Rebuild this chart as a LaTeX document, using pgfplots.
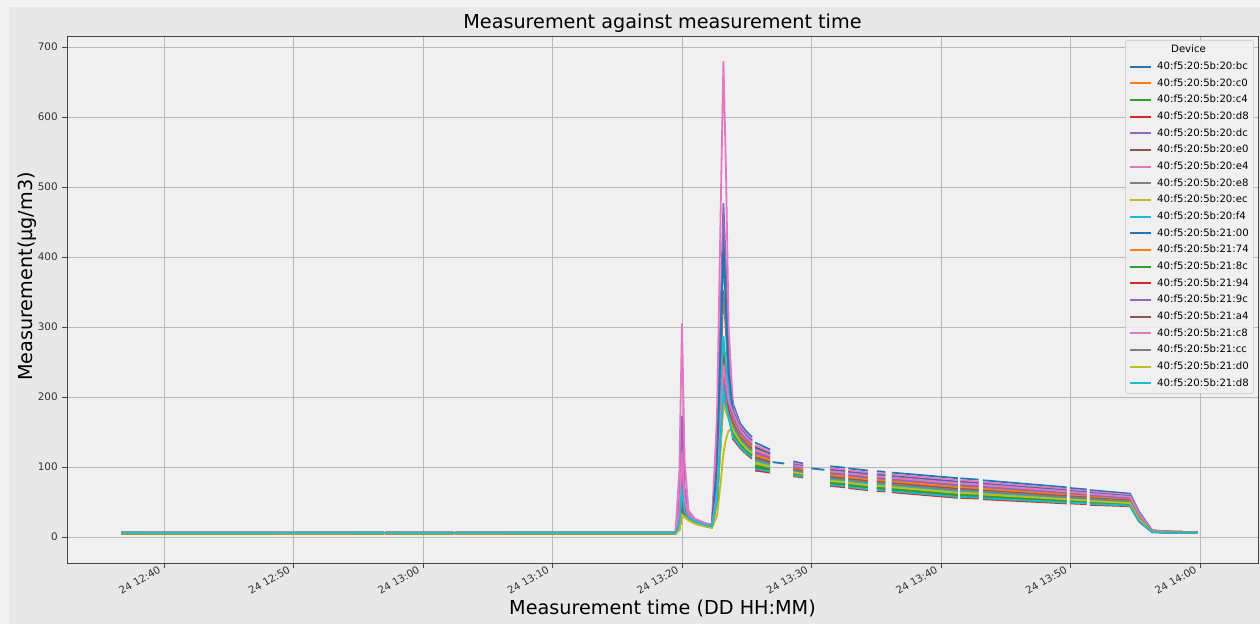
\documentclass[border=0pt]{standalone}
\usepackage{fontspec}
\setmainfont{DejaVu Sans}
\usepackage{pgfplots}
\usepackage{pgfplotstable}
\pgfplotsset{compat=1.18}
\definecolor{cA}{HTML}{1F77B4}
\definecolor{cB}{HTML}{FF7F0E}
\definecolor{cC}{HTML}{2CA02C}
\definecolor{cD}{HTML}{D62728}
\definecolor{cE}{HTML}{9467BD}
\definecolor{cF}{HTML}{8C564B}
\definecolor{cG}{HTML}{E377C2}
\definecolor{cH}{HTML}{7F7F7F}
\definecolor{cI}{HTML}{BCBD22}
\definecolor{cJ}{HTML}{17BECF}
\definecolor{figbg}{HTML}{E8E8E8}
\definecolor{outerbg}{HTML}{F3F3F3}
\definecolor{axbg}{HTML}{F0F0F0}
\definecolor{gridc}{HTML}{B8B8B8}
\definecolor{spine}{HTML}{444444}
\definecolor{tickc}{HTML}{333333}

\pgfplotstableread{
t a1 a2 a3 a4 a5 a6 a7 a8 a9 a10 a11 a12 a13 a14 a15 a16 a17 a18 a19 a20
36.7 6 5 5 6 6 5 6 6 5 6 6 5 5 6 6 5 6 6 5 6
45 6 5.5 5 6 6 5 6 5.5 5 6 6 5.5 5 6 6 5 6 5.5 5 6
52 6 5 5.5 6 6 5.5 6 6 5 6 6 5 5.5 6 6 5 6 6 5 6
57.0 6 5 5 6 6 5 6 6 5 6 6 5 5 6 6 5 6 6 5 6
57.05 nan nan nan nan nan nan nan nan nan nan nan nan nan nan nan nan nan nan nan nan
57.1 6 5 5 6 6 5 6 6 5 6 6 5 5 6 6 5 6 6 5 6
62.4 6 5.5 5 6 6 5 6 5.5 5 6 6 5.5 5 6 6 5 6 5.5 5 6
62.45 nan nan nan nan nan nan nan nan nan nan nan nan nan nan nan nan nan nan nan nan
62.5 6 5 5.5 6 6 5.5 6 6 5 6 6 5 5.5 6 6 5 6 6 5 6
70 6 5 5 6 6 5 6 6 5 6 6 5 5 6 6 5 6 6 5 6
79.5 6 5 5 6 6 5 6 6 5 6 6 5 5 6 6 5 6 6 5 6
79.8 30 16 13 22 55 15 95 12 10 15 25 18 12 19 30 14 38 11 10 20
80.0 97 50 40 70 173 45 305 35 30 45 80 55 38 60 95 42 120 33 32 65
80.2 45 33 30 38 70 32 110 30 28 32 40 34 30 35 45 31 52 30 29 36
80.5 30 28 25 30 34 28 38 27 24 29 31 28 25 29 30 27 32 26 24 29
81.0 23 22 20 23 25 22 26 21 19 22 23 22 20 22 22 21 23 21 19 22
81.8 18 17 16 18 19 17 20 17 15 17 18 17 16 17 17 16 18 16 15 17
82.3 16 15 14 16 17 15 18 15 13 15 16 15 14 15 15 14 16 14 13 15
82.7 105 62 54 67 120 60 170 88 30 72 102 58 50 59 56 51 61 50 48 52
83.0 300 175 150 188 335 168 480 247 80 200 287 161 140 165 158 144 172 140 133 147
83.2 430 250 215 268 477 240 680 353 120 287 410 230 200 235 225 205 245 200 190 210
83.4 340 225 195 240 380 215 520 290 140 245 325 210 185 210 205 190 220 185 178 190
83.6 240 200 175 210 260 185 300 220 152 205 235 190 170 180 190 180 195 175 170 170
83.94 190 175 150 182.5 170 145 185 165 155 157.5 180 167.5 147.5 140 172.5 162.5 177.5 160 152.5 142.5
84.5 162 151.5 134 156.8 148 130.5 158.5 144.5 137.5 139.3 155 146.3 132.3 127 149.8 142.8 153.3 141 135.8 128.8
85.0 150 140.4 124.4 145.2 137.2 121.2 146.8 134 127.6 129.2 143.6 135.6 122.8 118 138.8 132.4 142 130.8 126 119.6
85.4 143 133.7 118.2 138.4 130.6 115.1 139.9 127.5 121.3 122.9 136.8 129.1 116.7 112 132.2 126 135.3 124.4 119.8 113.6
85.5 nan nan nan nan nan nan nan nan nan nan nan nan nan nan nan nan nan nan nan nan
85.65 135 123 103 129 119 99 131 115 107 109 127 117 101 95 121 113 125 111 105 97
86.8 125 115.1 98.6 120.1 111.8 95.3 121.7 108.5 101.9 103.6 118.4 110.2 97.0 92 113.5 106.9 116.8 105.2 100.3 93.7
86.9 nan nan nan nan nan nan nan nan nan nan nan nan nan nan nan nan nan nan nan nan
87.0 107 nan nan nan nan nan nan nan nan nan nan nan nan nan nan nan nan nan nan nan
87.9 105 nan nan nan nan nan nan nan nan nan nan nan nan nan nan nan nan nan nan nan
88.2 nan nan nan nan nan nan nan nan nan nan nan nan nan nan nan nan nan nan nan nan
88.6 108 101.7 91.2 104.9 99.6 89.1 105.9 97.5 93.3 94.4 103.8 98.6 90.2 87 100.7 96.5 102.8 95.4 92.3 88.1
89.35 105 99 89 102 97 87 103 95 91 92 101 96 88 85 98 94 100 93 90 86
89.6 nan nan nan nan nan nan nan nan nan nan nan nan nan nan nan nan nan nan nan nan
90.0 98 nan nan nan nan nan nan nan nan nan nan nan nan nan nan nan nan nan nan nan
91.0 96 nan nan nan nan nan nan nan nan nan nan nan nan nan nan nan nan nan nan nan
91.2 nan nan nan nan nan nan nan nan nan nan nan nan nan nan nan nan nan nan nan nan
91.45 101 92.6 78.6 96.8 89.8 75.8 98.2 87 81.4 82.8 95.4 88.4 77.2 73 91.2 85.6 94 84.2 80 74.4
92.6 99 90.6 76.6 94.8 87.8 73.8 96.2 85 79.4 80.8 93.4 86.4 75.2 71 89.2 83.6 92 82.2 78 72.4
92.7 nan nan nan nan nan nan nan nan nan nan nan nan nan nan nan nan nan nan nan nan
92.85 98 89.6 75.6 93.8 86.8 72.8 95.2 84 78.4 79.8 92.4 85.4 74.2 70 88.2 82.6 91 81.2 77 71.4
94.35 95 86.6 72.6 90.8 83.8 69.8 92.2 81 75.4 76.8 89.4 82.4 71.2 67 85.2 79.6 88 78.2 74 68.4
94.7 nan nan nan nan nan nan nan nan nan nan nan nan nan nan nan nan nan nan nan nan
95.05 94 85.6 71.6 89.8 82.8 68.8 91.2 80 74.4 75.8 88.4 81.4 70.2 66 84.2 78.6 87 77.2 73 67.4
95.7 93 84.6 70.6 88.8 81.8 67.8 90.2 79 73.4 74.8 87.4 80.4 69.2 65 83.2 77.6 86 76.2 72 66.4
95.9 nan nan nan nan nan nan nan nan nan nan nan nan nan nan nan nan nan nan nan nan
96.2 92 83.6 69.6 87.8 80.8 66.8 89.2 78 72.4 73.8 86.4 79.4 68.2 64 82.2 76.6 85 75.2 71 65.4
101.3 84 75.6 61.6 79.8 72.8 58.8 81.2 70 64.4 65.8 78.4 71.4 60.2 56 74.2 68.6 77 67.2 63 57.4
101.4 nan nan nan nan nan nan nan nan nan nan nan nan nan nan nan nan nan nan nan nan
101.5 83.8 75.4 61.4 79.6 72.6 58.6 81 69.8 64.2 65.6 78.2 71.2 60 55.8 74 68.4 76.8 67 62.8 57.2
102.9 82 73.9 60.4 78 71.2 57.7 79.3 68.5 63.1 64.5 76.6 69.9 59.1 55 72.6 67.2 75.3 65.8 61.8 56.4
103.0 nan nan nan nan nan nan nan nan nan nan nan nan nan nan nan nan nan nan nan nan
103.25 81 72.9 59.4 77 70.2 56.7 78.3 67.5 62.1 63.5 75.6 68.9 58.1 54 71.6 66.2 74.3 64.8 60.8 55.4
109.7 71 64.1 52.6 67.6 61.8 50.3 68.7 59.5 54.9 56.1 66.4 60.7 51.5 48 63 58.4 65.3 57.2 53.8 49.2
109.8 nan nan nan nan nan nan nan nan nan nan nan nan nan nan nan nan nan nan nan nan
109.95 70 63.4 52.4 66.7 61.2 50.2 67.8 59 54.6 55.7 65.6 60.1 51.3 48 62.3 57.9 64.5 56.8 53.5 49.1
111.25 68 61.7 51.2 64.9 59.6 49.1 65.9 57.5 53.3 54.4 63.8 58.6 50.2 47 60.7 56.5 62.8 55.4 52.3 48.1
111.4 nan nan nan nan nan nan nan nan nan nan nan nan nan nan nan nan nan nan nan nan
111.5 67 60.7 50.2 63.9 58.6 48.1 64.9 56.5 52.3 53.4 62.8 57.6 49.2 46 59.7 55.5 61.8 54.4 51.3 47.1
114.6 62 56.6 47.6 59.3 54.8 45.8 60.2 53 49.4 50.3 58.4 53.9 46.7 44 55.7 52.1 57.5 51.2 48.5 44.9
115.3 36 31.8 24.8 33.9 30.4 23.4 34.6 29 26.2 26.9 33.2 29.7 24.1 22 31.1 28.3 32.5 27.6 25.5 22.7
116.3 9.5 8.5 7.5 9 8 7 9 8 7.5 8 9 8.5 7.5 7 8.5 8 9 8 7.5 7
118 7.5 7 6.5 7.5 7 6 7.5 7 6.5 7 7.5 7 6.5 6 7 7 7.5 7 6.5 6
119.8 7 7 6.5 7 7 6.5 7 7 6.5 7 7 7 6.5 6.5 7 7 7 7 6.5 6.5
}\data

\begin{document}
\begin{tikzpicture}
\fill[outerbg] (0,0) rectangle (945pt,468pt);
\fill[figbg] (6.75pt,0) rectangle (945pt,462.75pt);
\begin{axis}[
  at={(50.25pt,45.75pt)}, anchor=south west, scale only axis,
  width=893.25pt, height=395.25pt,
  xmin=32.51, xmax=124.48, ymin=-37.1, ymax=715.7,
  xtick={40,50,...,120},
  xticklabels={24 12:40,24 12:50,24 13:00,24 13:10,24 13:20,24 13:30,24 13:40,24 13:50,24 14:00},
  ytick={0,100,...,700},
  grid=major,
  major grid style={color=gridc, line width=0.6pt},
  axis background/.style={fill=axbg},
  axis line style={color=spine, line width=0.7pt},
  tick align=outside, major tick length=3.5pt,
  tick style={color=spine, line width=0.6pt},
  tick pos=left,
  /pgf/number format/assume math mode=true,
  xticklabel shift=-6.5pt,
  xticklabel style={xshift=-3.5pt, rotate=30, anchor=north east, font=\fontsize{7.7}{9}\selectfont, text=tickc},
  yticklabel style={font=\fontsize{7.8}{9}\selectfont, text=tickc},
  title={Measurement against measurement time},
  title style={at={(axis description cs:0.5,1)}, anchor=base, yshift=-0.5pt, font=\fontsize{14.4}{17}\selectfont},
  xlabel={Measurement time (DD HH:MM)},
  xlabel style={at={(axis description cs:0.5,0)}, anchor=base, yshift=-39pt, font=\fontsize{14.4}{17}\selectfont},
  ylabel={Measurement(µg/m3)},
  ylabel style={at={(axis description cs:-0.02855,0.5436)}, anchor=base, font=\fontsize{14.4}{17}\selectfont},
  unbounded coords=jump,
  every axis plot/.append style={line width=1.35pt},
  legend cell align=left,
  legend image code/.code={\draw[#1, line width=1.5pt] (0pt,0pt) -- (15.75pt,0pt);},
  legend style={at={(axis description cs:0.9966,0.9924)}, anchor=north east,
    draw=gridc!80, fill=axbg, fill opacity=0.9, text opacity=1, rounded corners=2pt,
    font=\fontsize{7.6}{9}\selectfont, row sep=2.7pt, column sep=3pt, inner sep=2.5pt,
    nodes={inner sep=1.2pt, text height=5.8pt, text depth=1.6pt}},
]
\addlegendimage{empty legend}
\addlegendentry{\hspace*{10.5pt}Device}
\addplot[cA] table[x=t,y=a1]{\data};  \addlegendentry{40:f5:20:5b:20:bc}
\addplot[cB] table[x=t,y=a2]{\data};  \addlegendentry{40:f5:20:5b:20:c0}
\addplot[cC] table[x=t,y=a3]{\data};  \addlegendentry{40:f5:20:5b:20:c4}
\addplot[cD] table[x=t,y=a4]{\data};  \addlegendentry{40:f5:20:5b:20:d8}
\addplot[cE] table[x=t,y=a5]{\data};  \addlegendentry{40:f5:20:5b:20:dc}
\addplot[cF] table[x=t,y=a6]{\data};  \addlegendentry{40:f5:20:5b:20:e0}
\addplot[cG] table[x=t,y=a7]{\data};  \addlegendentry{40:f5:20:5b:20:e4}
\addplot[cH] table[x=t,y=a8]{\data};  \addlegendentry{40:f5:20:5b:20:e8}
\addplot[cI] table[x=t,y=a9]{\data};  \addlegendentry{40:f5:20:5b:20:ec}
\addplot[cJ] table[x=t,y=a10]{\data}; \addlegendentry{40:f5:20:5b:20:f4}
\addplot[cA] table[x=t,y=a11]{\data}; \addlegendentry{40:f5:20:5b:21:00}
\addplot[cB] table[x=t,y=a12]{\data}; \addlegendentry{40:f5:20:5b:21:74}
\addplot[cC] table[x=t,y=a13]{\data}; \addlegendentry{40:f5:20:5b:21:8c}
\addplot[cD] table[x=t,y=a14]{\data}; \addlegendentry{40:f5:20:5b:21:94}
\addplot[cE] table[x=t,y=a15]{\data}; \addlegendentry{40:f5:20:5b:21:9c}
\addplot[cF] table[x=t,y=a16]{\data}; \addlegendentry{40:f5:20:5b:21:a4}
\addplot[cG] table[x=t,y=a17]{\data}; \addlegendentry{40:f5:20:5b:21:c8}
\addplot[cH] table[x=t,y=a18]{\data}; \addlegendentry{40:f5:20:5b:21:cc}
\addplot[cI] table[x=t,y=a19]{\data}; \addlegendentry{40:f5:20:5b:21:d0}
\addplot[cJ] table[x=t,y=a20]{\data}; \addlegendentry{40:f5:20:5b:21:d8}
\end{axis}
\pgfresetboundingbox
\useasboundingbox (0,0) rectangle (945pt,468pt);
\end{tikzpicture}
\end{document}
